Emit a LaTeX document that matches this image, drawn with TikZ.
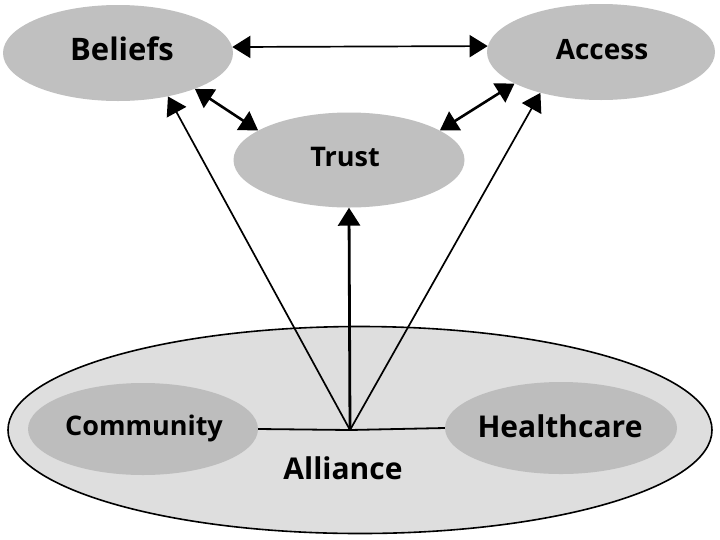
\documentclass[tikz,border=0pt]{standalone}
\usepackage{fontspec}
\setmainfont{Open Sans}
\usetikzlibrary{shapes.geometric,arrows.meta}
\definecolor{topgray}{HTML}{C0C0C0}
\definecolor{innergray}{HTML}{BDBDBD}
\definecolor{outergray}{HTML}{DEDEDE}
\begin{document}
\begin{tikzpicture}[x=1pt,y=-1pt,
  oval/.style={ellipse, fill=topgray, draw=none, inner sep=0pt},
  lbl/.style={font=\bfseries},
  tip/.style={Triangle[length=18pt,width=22pt]},
  arr/.style={-{Triangle[length=18pt,width=22pt]}, line width=1.7pt},
  darr/.style={{Triangle[length=18pt,width=22pt]}-{Triangle[length=18pt,width=22pt]}, line width=2.6pt},
  harr/.style={{Triangle[length=18pt,width=22pt]}-{Triangle[length=18pt,width=22pt]}, line width=1.7pt},
  thin/.style={line width=1.8pt}]
\useasboundingbox (0,0) rectangle (720,539);
\fill[white] (0,0) rectangle (720,539);
% outer alliance
\node[ellipse, fill=outergray, draw=black, line width=1.6pt, minimum width=704pt, minimum height=207pt, inner sep=0pt] (alliance) at (360,430) {};
\node[oval, fill=innergray, minimum width=230pt, minimum height=92pt] (comm) at (143,429) {};
\node[oval, fill=innergray, minimum width=232pt, minimum height=92pt] (hc) at (561,428) {};
\node[lbl, font=\bfseries\fontsize{27}{30}\selectfont] (commt) at (144,428) {Community};
\node[lbl, font=\bfseries\fontsize{30}{33}\selectfont] (hct) at (560,426) {Healthcare};
\node[lbl, font=\bfseries\fontsize{30}{33}\selectfont] (alliancet) at (343,468) {Alliance};
% top
\node[oval, minimum width=230pt, minimum height=96pt] (beliefs) at (118,53) {};
\node[oval, minimum width=228pt, minimum height=96pt] (access) at (601,52) {};
\node[oval, minimum width=231pt, minimum height=95pt] (trust) at (349,160) {};
\node[lbl, font=\bfseries\fontsize{31}{34}\selectfont] (beliefst) at (122,49) {Beliefs};
\node[lbl, font=\bfseries\fontsize{28}{31}\selectfont] (accesst) at (602,50) {Access};
\node[lbl, font=\bfseries\fontsize{27}{30}\selectfont] (trustt) at (345,157) {Trust};
% connectors
\coordinate (j) at (350,430);
\draw[thin] (comm.east) -- (j) -- (hc.west);
\draw[arr] (j) -- (beliefs.-41);
\draw[arr] (j) -- (access.-146);
\draw[-{Triangle[length=18pt,width=22pt]}, line width=2.8pt] (j) -- (trust.south);
\draw[harr] (beliefs.3) -- (access.177);
\draw[darr] (beliefs.-25) -- (trust.162);
\draw[darr] (access.-160) -- (trust.18);
\end{tikzpicture}
\end{document}
